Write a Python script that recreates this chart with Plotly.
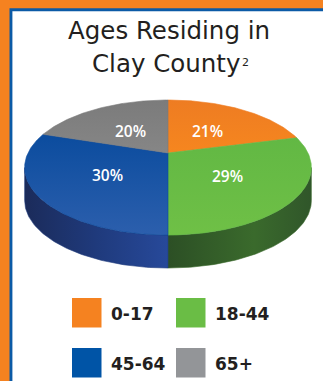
import numpy as np
import plotly.graph_objects as go

# ---- data ----
categories = ["0-17", "18-44", "45-64", "65+"]
shares = [21, 29, 30, 20]
pct_labels = ["21%", "29%", "30%", "20%"]
title_lines = ["Ages Residing in", "Clay County"]
title_note = "2"

# ---- styles ----
top_colors = [["#f6861f", "#ee7c22"], ["#6fc046", "#62b844"], ["#2c5fad", "#0b4c9e"], ["#868686", "#7b7b7b"]]
side_colors = [None, ["#2c4f25", "#3a6a2c", "#30562a"], ["#1b2b5a", "#1f3a7c", "#27499a"], None]
legend_colors = ["#f58220", "#6abd45", "#0054a6", "#939598"]
TEXT = "#231f20"

W, H = 323, 381
CX, CY = 168, 153      # pie apex (screen)
SX, SY = 140, 64.4     # projected radii
K = 0.215              # perspective factor
T = 33                 # thickness


def proj(phi_deg, f=1.0, drop=0.0):
    p = np.radians(phi_deg)
    s = np.sin(p) * f
    c = np.cos(p) * f
    den = 1 + K * s
    return CX + SX * c / den, CY - SY * s / den + drop


fig = go.Figure()

total = float(sum(shares))
bounds = []
cum = 0.0
for v in shares:
    a0 = 90 - 360 * cum / total
    cum += v
    a1 = 90 - 360 * cum / total
    bounds.append((a0, a1))

vis_hi = -np.degrees(np.arcsin(K))
vis_lo = -180 - vis_hi

# sides
for i, (a0, a1) in enumerate(bounds):
    hi = min(a0, vis_hi)
    lo = max(a1, vis_lo)
    if hi <= lo or side_colors[i] is None:
        continue
    ang = np.linspace(hi, lo, 80)
    xt, yt = proj(ang)
    xb, yb = proj(ang[::-1], drop=T)
    xs = np.concatenate([xt, xb, xt[:1]])
    ys = np.concatenate([yt, yb, yt[:1]])
    cs = side_colors[i]
    scale = [[0, cs[0]], [0.5, cs[1]], [1, cs[2]]]
    if i == 1:
        scale = [[0, cs[0]], [0.6, cs[1]], [1, cs[2]]]
    fig.add_trace(go.Scatter(
        x=xs, y=ys, mode="lines", fill="toself",
        line=dict(width=0.6, color=cs[1]),
        fillgradient=dict(type="horizontal", colorscale=scale),
        hoverinfo="skip", showlegend=False))

# top faces
for i, (a0, a1) in enumerate(bounds):
    ang = np.linspace(a0, a1, 100)
    xr, yr = proj(ang)
    xs = np.concatenate([[CX], xr, [CX]])
    ys = np.concatenate([[CY], yr, [CY]])
    c0, c1 = top_colors[i]
    fig.add_trace(go.Scatter(
        x=xs, y=ys, mode="lines", fill="toself",
        line=dict(width=0.6, color=c1),
        fillgradient=dict(type="vertical", colorscale=[[0, c0], [1, c1]]),
        hoverinfo="skip", showlegend=False))

# percentage labels
for i, (a0, a1) in enumerate(bounds):
    mx, my = proj((a0 + a1) / 2, f=0.5)
    fig.add_annotation(x=mx, y=my + 1.5, text=pct_labels[i], showarrow=False,
                       font=dict(family="Open Sans", size=15.5, color="white", weight=600),
                       xanchor="center", yanchor="middle")

# border frame
shapes = [
    dict(type="rect", x0=-5, y0=-5, x1=W + 5, y1=H + 5, fillcolor="#f58220", line_width=0, layer="below"),
    dict(type="rect", x0=9.5, y0=8.3, x1=W + 5, y1=H + 5, fillcolor="#0b5aa6", line_width=0, layer="below"),
    dict(type="rect", x0=12.4, y0=11.2, x1=W + 5, y1=H + 5, fillcolor="white", line_width=0, layer="below"),
]

# title
TS = 24.5
fig.add_annotation(x=169, y=30.5, text=title_lines[0], showarrow=False,
                   font=dict(family="DejaVu Sans", size=TS, color=TEXT),
                   xanchor="center", yanchor="middle")
fig.add_annotation(x=165.5, y=63, text=title_lines[1], showarrow=False,
                   font=dict(family="DejaVu Sans", size=TS, color=TEXT),
                   xanchor="center", yanchor="middle")
fig.add_annotation(x=239.5, y=62.5, text=title_note, showarrow=False,
                   font=dict(family="DejaVu Sans", size=11, color=TEXT),
                   xanchor="left", yanchor="middle")

# legend (2 x 2)
col_x = [72, 176]
row_y = [298, 348]
SQ = 29.5
for i, cat in enumerate(categories):
    r, c = divmod(i, 2)
    x0, y0 = col_x[c], row_y[r]
    shapes.append(dict(type="rect", x0=x0, y0=y0, x1=x0 + SQ, y1=y0 + SQ,
                       fillcolor=legend_colors[i], line_width=0))
    fig.add_annotation(x=x0 + SQ + 7, y=y0 + SQ / 2 + 1.5, text=cat, showarrow=False,
                       font=dict(family="DejaVu Sans", size=17, color=TEXT, weight="bold"),
                       xanchor="left", yanchor="middle")

fig.update_layout(
    width=W, height=H, autosize=False,
    margin=dict(l=0, r=0, t=0, b=0, pad=0),
    paper_bgcolor="white", plot_bgcolor="rgba(0,0,0,0)",
    xaxis=dict(range=[0, W], visible=False, fixedrange=True),
    yaxis=dict(range=[H, 0], visible=False, fixedrange=True),
    shapes=shapes,
    showlegend=False,
)

fig.write_html("out.html", config={"displayModeBar": False})
